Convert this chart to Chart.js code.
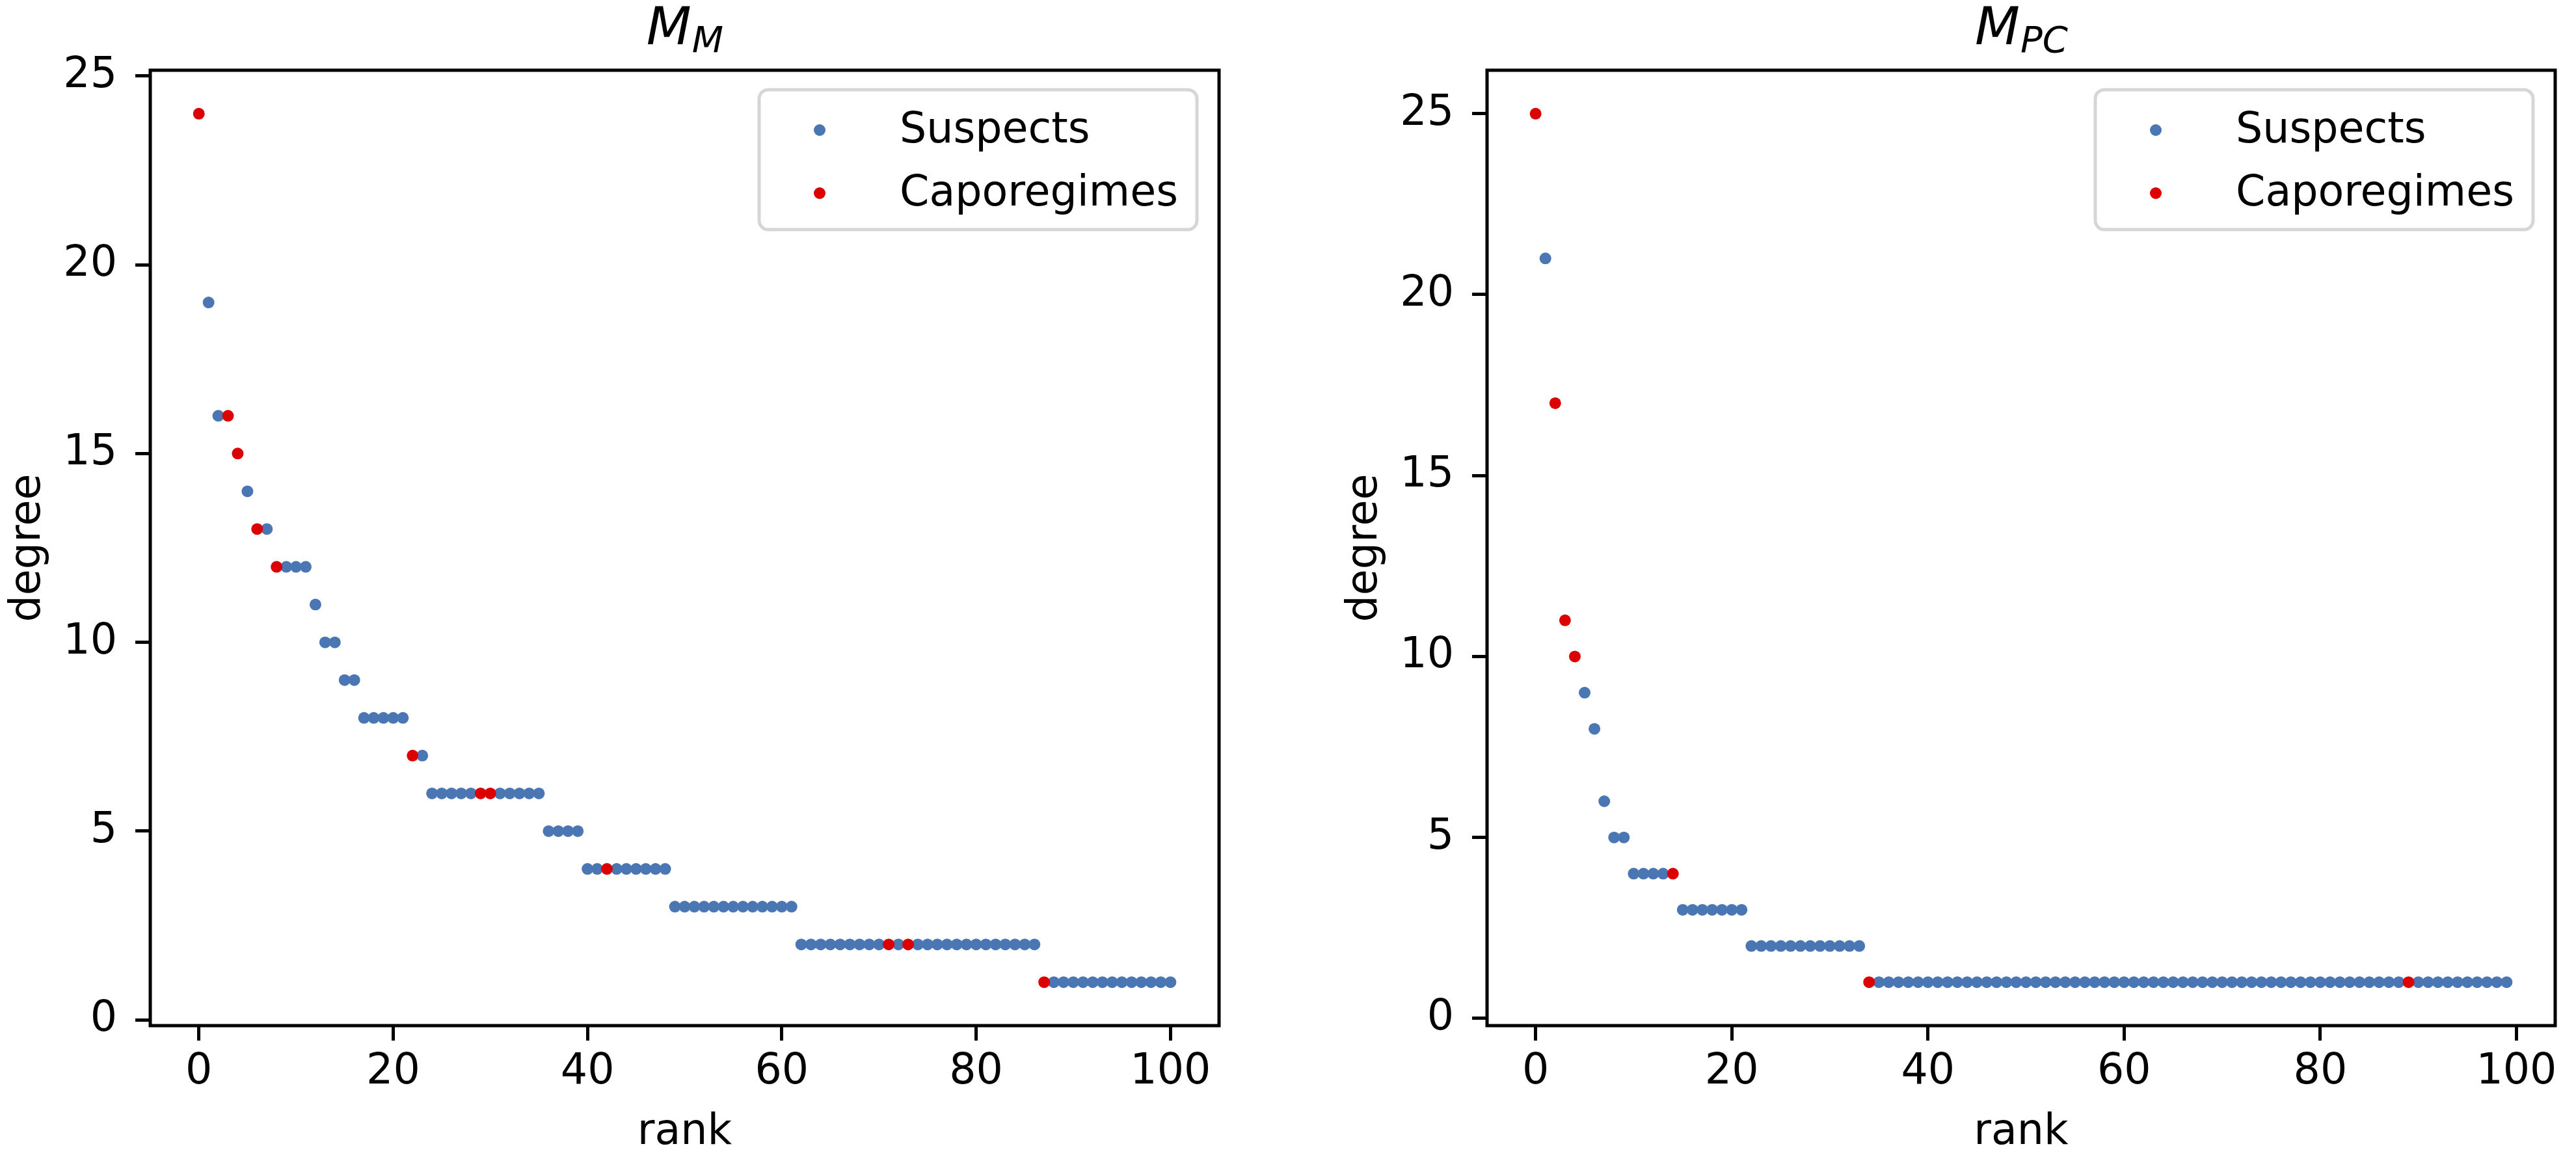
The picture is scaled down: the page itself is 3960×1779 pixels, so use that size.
<!DOCTYPE html>
<html>
<head>
<meta charset="utf-8">
<script src="https://cdn.jsdelivr.net/npm/chart.js@4.4.0/dist/chart.umd.min.js"></script>
<style>
  html, body { margin: 0; padding: 0; background: #fff; }
  #wrap { position: relative; width: 3960px; height: 1779px; }
  canvas { position: absolute; top: 0; }
</style>
</head>
<body>
<div id="wrap">
  <canvas id="mm" width="1980" height="1779" style="left:0;width:1980px;height:1779px"></canvas>
  <canvas id="pc" width="1980" height="1779" style="left:1980px;width:1980px;height:1779px"></canvas>
</div>
<script>
const seriesNames = ["Suspects", "Caporegimes"];
const seriesColors = ["#4a76b3", "#dd0000"];
const xTicks = [0, 20, 40, 60, 80, 100];
const yTicks = [0, 5, 10, 15, 20, 25];

// degree by rank, M_M network (rank 0..100)
const mmDegree = [
  24, 19, 16, 16, 15, 14, 13, 13, 12, 12, 12, 12, 11, 10, 10, 9, 9, 8, 8, 8, 8, 8, 7, 7,
  6, 6, 6, 6, 6, 6, 6, 6, 6, 6, 6, 6,
  5, 5, 5, 5,
  4, 4, 4, 4, 4, 4, 4, 4, 4,
  3, 3, 3, 3, 3, 3, 3, 3, 3, 3, 3, 3, 3,
  2, 2, 2, 2, 2, 2, 2, 2, 2, 2, 2, 2, 2, 2, 2, 2, 2, 2, 2, 2, 2, 2, 2, 2, 2,
  1, 1, 1, 1, 1, 1, 1, 1, 1, 1, 1, 1, 1, 1
];
const mmCapoRanks = [0, 3, 4, 6, 8, 22, 29, 30, 42, 71, 73, 87];

// degree by rank, M_PC network (rank 0..99)
const pcDegree = [
  25, 21, 17, 11, 10, 9, 8, 6, 5, 5,
  4, 4, 4, 4, 4,
  3, 3, 3, 3, 3, 3, 3,
  2, 2, 2, 2, 2, 2, 2, 2, 2, 2, 2, 2,
  1, 1, 1, 1, 1, 1, 1, 1, 1, 1, 1, 1, 1, 1, 1, 1, 1, 1, 1, 1, 1, 1,
  1, 1, 1, 1, 1, 1, 1, 1, 1, 1, 1, 1, 1, 1, 1, 1, 1, 1, 1, 1, 1, 1,
  1, 1, 1, 1, 1, 1, 1, 1, 1, 1, 1, 1, 1, 1, 1, 1, 1, 1, 1, 1, 1, 1
];
const pcCapoRanks = [0, 2, 3, 4, 14, 34, 89];

Chart.defaults.font.family = "'DejaVu Sans', sans-serif";
Chart.defaults.font.size = 65;
Chart.defaults.color = "#000";

function splitSeries(degree, capoRanks) {
  const suspects = [], capos = [];
  degree.forEach((d, rank) => {
    if (capoRanks.includes(rank)) capos.push({x: rank, y: d});
    else suspects.push({x: rank, y: d});
  });
  return [suspects, capos];
}

function framePlugin() {
  return {
    id: "frame",
    afterDraw(chart) {
      const a = chart.chartArea, ctx = chart.ctx;
      ctx.save();
      ctx.lineWidth = 5;
      ctx.strokeStyle = "#000";
      ctx.strokeRect(a.left, a.top, a.right - a.left, a.bottom - a.top);
      ctx.restore();
    }
  };
}

function titlePlugin(main, sub) {
  return {
    id: "mathTitle",
    afterDraw(chart) {
      const a = chart.chartArea, ctx = chart.ctx;
      ctx.save();
      ctx.fillStyle = "#000";
      ctx.textBaseline = "alphabetic";
      const bigFont = "italic 80px 'DejaVu Sans'";
      const smallFont = "italic 56px 'DejaVu Sans'";
      ctx.font = bigFont;
      const w1 = ctx.measureText(main).width;
      ctx.font = smallFont;
      const w2 = ctx.measureText(sub).width;
      const x0 = (a.left + a.right) / 2 - (w1 + w2) / 2;
      ctx.font = bigFont;
      ctx.fillText(main, x0, 68);
      ctx.font = smallFont;
      ctx.fillText(sub, x0 + w1 + 1, 80);
      ctx.restore();
    }
  };
}

function legendPlugin() {
  return {
    id: "boxLegend",
    afterDraw(chart) {
      const a = chart.chartArea, ctx = chart.ctx;
      const w = 673, h = 215;
      const left = a.right - 34 - w, top = a.top + 30;
      ctx.save();
      ctx.beginPath();
      ctx.roundRect(left, top, w, h, 14);
      ctx.fillStyle = "rgba(255,255,255,0.8)";
      ctx.fill();
      ctx.lineWidth = 5;
      ctx.strokeStyle = "#d6d6d6";
      ctx.stroke();
      ctx.font = "65px 'DejaVu Sans'";
      ctx.textBaseline = "middle";
      chart.data.datasets.forEach((ds, i) => {
        const y = top + 62 + i * 97;
        ctx.beginPath();
        ctx.arc(left + 93, y, 9, 0, Math.PI * 2);
        ctx.fillStyle = ds.backgroundColor;
        ctx.fill();
        ctx.fillStyle = "#000";
        ctx.fillText(ds.label, left + 216, y + 2);
      });
      ctx.restore();
    }
  };
}

function makeChart(id, degree, capoRanks, titleMain, titleSub, box) {
  const [suspects, capos] = splitSeries(degree, capoRanks);
  const tickGrid = {
    display: true, drawOnChartArea: false, drawTicks: true,
    tickLength: 23, tickWidth: 5, tickColor: "#000"
  };
  return new Chart(document.getElementById(id), {
    type: "scatter",
    data: {
      datasets: [
        {label: seriesNames[0], data: suspects, backgroundColor: seriesColors[0], order: 1},
        {label: seriesNames[1], data: capos, backgroundColor: seriesColors[1], order: 0}
      ]
    },
    options: {
      responsive: false,
      devicePixelRatio: 1,
      animation: false,
      events: [],
      layout: {padding: {left: box.padL, top: 108, right: box.padR, bottom: 0}},
      elements: {point: {radius: 9, hoverRadius: 9, borderWidth: 0}},
      plugins: {legend: {display: false}, tooltip: {enabled: false}, title: {display: false}},
      scales: {
        x: {
          type: "linear", min: box.xmin, max: box.xmax,
          afterBuildTicks: s => { s.ticks = xTicks.map(v => ({value: v})); },
          afterFit: s => { s.height = 202; },
          grid: tickGrid,
          border: {display: false},
          ticks: {padding: 10, maxRotation: 0, autoSkip: false},
          title: {display: true, text: "rank", font: {size: 65, lineHeight: 1}, padding: {top: 0, bottom: 4}}
        },
        y: {
          type: "linear", min: box.ymin, max: box.ymax,
          afterBuildTicks: s => { s.ticks = yTicks.map(v => ({value: v})); },
          afterFit: s => { s.width = box.yWidth; },
          grid: tickGrid,
          border: {display: false},
          ticks: {padding: 28, autoSkip: false},
          title: {display: true, text: "degree", font: {size: 65, lineHeight: 1}, padding: {top: 6, bottom: 0}}
        }
      }
    },
    plugins: [framePlugin(), titlePlugin(titleMain, titleSub), legendPlugin()]
  });
}

makeChart("mm", mmDegree, mmCapoRanks, "M", "M",
  {padL: 6, padR: 106, yWidth: 225, xmin: -5, xmax: 105, ymin: -0.15, ymax: 25.15});
makeChart("pc", pcDegree, pcCapoRanks, "M", "PC",
  {padL: 81, padR: 32, yWidth: 225, xmin: -4.95, xmax: 103.95, ymin: -0.2, ymax: 26.2});
</script>
</body>
</html>
